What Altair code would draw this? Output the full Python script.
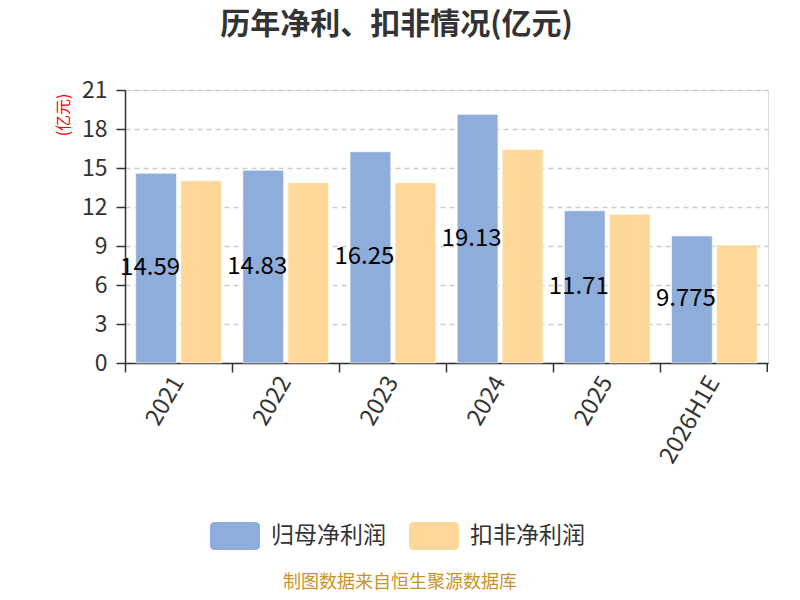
import altair as alt
import pandas as pd

FONT = "Noto Sans CJK SC"

years = ["2021", "2022", "2023", "2024", "2025", "2026H1E"]
parent_profit = [14.59, 14.83, 16.25, 19.13, 11.71, 9.775]
deducted_profit = [14.02, 13.87, 13.87, 16.43, 11.44, 9.08]
label_text = ["14.59", "14.83", "16.25", "19.13", "11.71", "9.775"]
series = ["归母净利润", "扣非净利润"]
colors = ["#8EADDB", "#FFD899"]
y_ticks = [0, 3, 6, 9, 12, 15, 18, 21]
title_text = "历年净利、扣非情况(亿元)"
footer_text = ["制图数据来自恒生聚源数据库"]

rows = []
for i, yr in enumerate(years):
    rows.append({"year": yr, "series": series[0], "value": parent_profit[i],
                 "label": label_text[i], "half": parent_profit[i] / 2})
    rows.append({"year": yr, "series": series[1], "value": deducted_profit[i],
                 "label": "", "half": deducted_profit[i] / 2})
df = pd.DataFrame(rows)

W, H = 643, 273

x_axis = alt.Axis(title=None, bandPosition=0, labelAngle=-60, labelAlign="right",
                  labelBaseline="middle", labelOffset=0, labelPadding=6,
                  labelFontSize=23.5, labelColor="#333333", labelFont=FONT,
                  tickSize=9, tickColor="#333333", tickWidth=1.5,
                  domainColor="#333333", domainWidth=1.5, grid=False)
y_axis = alt.Axis(title="(亿元)", titleColor="#FF0000", titleFont=FONT,
                  titleFontSize=16, titleFontWeight="normal", titleAngle=-90,
                  titleX=-62, titleY=3, titleAlign="right", titleBaseline="middle",
                  values=y_ticks, labelFontSize=23, labelColor="#333333",
                  labelFont=FONT, labelPadding=9, tickSize=9, tickColor="#333333",
                  tickWidth=1.5, domainColor="#333333", domainWidth=1.5,
                  grid=True, gridColor="#CCCCCC", gridDash=[5, 4], gridWidth=1.5)

x_enc = alt.X("year:N", sort=years, scale=alt.Scale(paddingInner=0, paddingOuter=0),
              axis=x_axis)
xo_enc = alt.XOffset("series:N", sort=series,
                     scale=alt.Scale(domain=series, paddingInner=0.095, paddingOuter=0.238))
y_scale = alt.Scale(domain=[0, 21], nice=False)

legend_symbol = ("M-0.8,-0.56L0.8,-0.56Q1,-0.56,1,-0.36L1,0.36Q1,0.56,0.8,0.56"
                 "L-0.8,0.56Q-1,0.56,-1,0.36L-1,-0.36Q-1,-0.56,-0.8,-0.56Z")
legend = alt.Legend(title=None, orient="none", legendX=85, legendY=421,
                    direction="horizontal", symbolType=legend_symbol, symbolSize=2500,
                    symbolStrokeWidth=0, symbolOpacity=1, labelFontSize=23,
                    labelFont=FONT, labelColor="#333333", labelOffset=11,
                    columnPadding=23, padding=0)
color_enc = alt.Color("series:N", scale=alt.Scale(domain=series, range=colors),
                      legend=legend)

base = alt.Chart(df)

bars_parent = base.transform_filter(alt.datum.series == series[0]).mark_bar(
    stroke="#FFFFFF", strokeWidth=1, strokeOpacity=0.6
).encode(
    x=x_enc, xOffset=xo_enc,
    y=alt.Y("value:Q", scale=y_scale, axis=y_axis),
    color=color_enc,
)

labels = base.transform_filter(alt.datum.series == series[0]).mark_text(
    font=FONT, fontSize=24, color="#000000", baseline="middle", align="center", dx=-6
).encode(
    x=x_enc, xOffset=xo_enc,
    y=alt.Y("half:Q", scale=y_scale, axis=y_axis),
    text="label:N",
)

bars_deducted = base.transform_filter(alt.datum.series == series[1]).mark_bar(
    stroke="#FFFFFF", strokeWidth=1, strokeOpacity=0.6
).encode(
    x=x_enc, xOffset=xo_enc,
    y=alt.Y("value:Q", scale=y_scale, axis=y_axis),
    color=color_enc,
)

# closing tick at the right end of the category axis
end_tick = alt.Chart(pd.DataFrame({"t": [0]})).mark_rule(
    color="#333333", strokeWidth=1.5
).encode(x=alt.value(W - 0.75), y=alt.value(H), y2=alt.value(H + 9))

footer = alt.Chart(pd.DataFrame({"t": footer_text})).mark_text(
    font=FONT, fontSize=18, color="#C8932A", align="center", baseline="middle"
).encode(x=alt.value(275), y=alt.value(493), text="t:N")

chart = alt.layer(bars_parent, labels, bars_deducted, end_tick, footer).properties(
    width=W, height=H,
    title=alt.TitleParams(title_text, font=FONT, fontSize=30, fontWeight="bold",
                          color="#333333", anchor="middle", dx=-50, offset=39),
    autosize=alt.AutoSizeParams(type="none"),
    padding={"left": 117, "top": 82, "right": 24, "bottom": 229},
).configure_view(stroke=None).configure(background="#FFFFFF")

chart.save("out.html", embed_options={"renderer": "svg", "actions": False})
